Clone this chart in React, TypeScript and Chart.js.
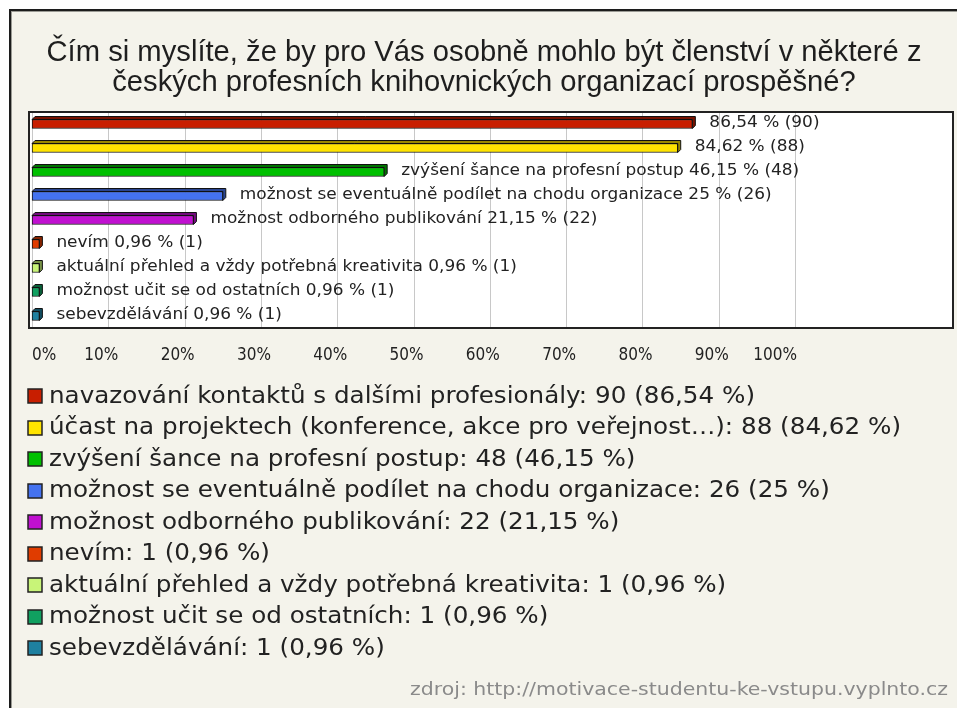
import React, { useEffect, useRef } from "react";
import { Chart, registerables } from "chart.js";
Chart.register(...registerables);

const titleLines = [
  "Čím si myslíte, že by pro Vás osobně mohlo být členství v některé z",
  "českých profesních knihovnických organizací prospěšné?",
];
const categories = [
  "navazování kontaktů s dalšími profesionály",
  "účast na projektech (konference, akce pro veřejnost…)",
  "zvýšení šance na profesní postup",
  "možnost se eventuálně podílet na chodu organizace",
  "možnost odborného publikování",
  "nevím",
  "aktuální přehled a vždy potřebná kreativita",
  "možnost učit se od ostatních",
  "sebevzdělávání",
];
const counts = [90, 88, 48, 26, 22, 1, 1, 1, 1];
const percents = [86.54, 84.62, 46.15, 25, 21.15, 0.96, 0.96, 0.96, 0.96];
const barLabelShowsName = [false, false, true, true, true, true, true, true, true];
const colors = ["#C81E00", "#FFE400", "#00C000", "#4472F0", "#C010D0", "#E03C00", "#C8F478", "#10A060", "#1E80A0"];
const tickValues = [0, 10, 20, 30, 40, 50, 60, 70, 80, 90, 100];
const tickLabels = tickValues.map((v) => v + "%");
const sourceText = "zdroj: http://motivace-studentu-ke-vstupu.vyplnto.cz";

const W = 957;
const H = 708;
const FONT = '"DejaVu Sans", Verdana, sans-serif';
const TITLE_FONT = '"Liberation Sans Narrow", "Liberation Sans", Arial, sans-serif';

const fmt = (p: number) => (Number.isInteger(p) ? String(p) : p.toFixed(2).replace(".", ","));
const barLabel = (i: number) =>
  (barLabelShowsName[i] ? categories[i] + " " : "") + fmt(percents[i]) + " % (" + counts[i] + ")";
const legendLabel = (i: number) => categories[i] + ": " + counts[i] + " (" + fmt(percents[i]) + " %)";

function shade(hex: string, f: number) {
  const n = parseInt(hex.slice(1), 16);
  const r = Math.round(((n >> 16) & 255) * f);
  const g = Math.round(((n >> 8) & 255) * f);
  const b = Math.round((n & 255) * f);
  return `rgb(${r},${g},${b})`;
}

function drawScaled(ctx: CanvasRenderingContext2D, text: string, x: number, y: number, sx: number, align: CanvasTextAlign) {
  ctx.save();
  ctx.translate(x, y);
  ctx.scale(sx, 1);
  ctx.textAlign = align;
  ctx.fillText(text, 0, 0);
  ctx.restore();
}

const decor = {
  id: "decor",
  beforeDraw(chart: any) {
    const ctx: CanvasRenderingContext2D = chart.ctx;
    ctx.save();
    ctx.fillStyle = "#ffffff";
    ctx.fillRect(0, 0, W, H);
    ctx.fillStyle = "#F4F3EB";
    ctx.fillRect(9, 9, W - 9, H - 9);
    ctx.fillStyle = "#1c1c1c";
    ctx.fillRect(9, 9, W - 9, 2);
    ctx.fillRect(9, 9, 2, H - 9);
    ctx.fillStyle = "#9a9a94";
    ctx.fillRect(11, 11, W - 11, 1);
    ctx.fillRect(11, 11, 1, H - 11);
    // title
    ctx.fillStyle = "#1e1e1e";
    ctx.font = `29px ${TITLE_FONT}`;
    ctx.textBaseline = "alphabetic";
    const w1 = ctx.measureText(titleLines[0]).width;
    const sx = 875 / w1;
    drawScaled(ctx, titleLines[0], 484, 61, sx, "center");
    drawScaled(ctx, titleLines[1], 484, 91, sx, "center");
    ctx.restore();
  },
  beforeDatasetsDraw(chart: any) {
    const ctx: CanvasRenderingContext2D = chart.ctx;
    const { left, top, right, bottom } = chart.chartArea;
    const xs = chart.scales.x;
    ctx.save();
    ctx.fillStyle = "#ffffff";
    ctx.fillRect(left, top, right - left, bottom - top);
    ctx.strokeStyle = "#c8c8c8";
    ctx.lineWidth = 1;
    tickValues.forEach((v) => {
      const x = Math.round(xs.getPixelForValue(v)) + 0.5;
      ctx.beginPath();
      ctx.moveTo(x, top);
      ctx.lineTo(x, bottom);
      ctx.stroke();
    });
    // 3D depth faces
    const meta = chart.getDatasetMeta(0);
    const d = 3;
    meta.data.forEach((el: any, i: number) => {
      const p = el.getProps(["x", "y", "base", "height"], true);
      const t = p.y - p.height / 2;
      const b = p.y + p.height / 2;
      ctx.fillStyle = shade(colors[i], 0.6);
      ctx.strokeStyle = "#111";
      ctx.lineWidth = 1;
      ctx.beginPath();
      ctx.moveTo(p.base, t);
      ctx.lineTo(p.base + d, t - d);
      ctx.lineTo(p.x + d, t - d);
      ctx.lineTo(p.x + d, b - d);
      ctx.lineTo(p.x, b);
      ctx.lineTo(p.x, t);
      ctx.closePath();
      ctx.fill();
      ctx.stroke();
    });
    ctx.restore();
  },
  afterDatasetsDraw(chart: any) {
    const ctx: CanvasRenderingContext2D = chart.ctx;
    const { left, top, right, bottom } = chart.chartArea;
    const xs = chart.scales.x;
    ctx.save();
    ctx.strokeStyle = "#222";
    ctx.lineWidth = 2;
    ctx.strokeRect(left, top, right - left, bottom - top);
    // bar labels
    const meta = chart.getDatasetMeta(0);
    ctx.fillStyle = "#222";
    ctx.font = `16px ${FONT}`;
    ctx.textBaseline = "middle";
    const lsx = 398 / ctx.measureText(barLabel(2)).width;
    meta.data.forEach((el: any, i: number) => {
      const p = el.getProps(["x", "y"], true);
      drawScaled(ctx, barLabel(i), p.x + 17, p.y - 1, lsx, "left");
    });
    // tick labels
    ctx.font = `17px ${FONT}`;
    ctx.fillStyle = "#222";
    const x0 = xs.getPixelForValue(tickValues[0]);
    const xN = xs.getPixelForValue(tickValues[tickValues.length - 1]);
    tickValues.forEach((v, i) => {
      const tsx = 0.9;
      const w = ctx.measureText(tickLabels[i]).width * tsx;
      let x = xs.getPixelForValue(v) - 7;
      if (x - w / 2 < x0) x = x0 + w / 2;
      if (x + w / 2 > xN + 2) x = xN + 2 - w / 2;
      drawScaled(ctx, tickLabels[i], x, bottom + 28, tsx, "center");
    });
    // legend
    ctx.font = `23px ${FONT}`;
    const gsx = 706 / ctx.measureText(legendLabel(0)).width;
    categories.forEach((_, i) => {
      const cy = 396 + i * 31.5;
      ctx.fillStyle = colors[i];
      ctx.fillRect(28, Math.round(cy - 7), 14, 14);
      ctx.strokeStyle = "#222";
      ctx.lineWidth = 1.5;
      ctx.strokeRect(28, Math.round(cy - 7), 14, 14);
      ctx.fillStyle = "#222";
      drawScaled(ctx, legendLabel(i), 49, cy + 1, gsx, "left");
    });
    // footer
    ctx.font = `18px ${FONT}`;
    ctx.fillStyle = "#8a8a8a";
    const fsx = 538 / ctx.measureText(sourceText).width;
    drawScaled(ctx, sourceText, 948, 690, fsx, "right");
    ctx.restore();
  },
};

export default function App() {
  const ref = useRef<HTMLCanvasElement>(null);
  useEffect(() => {
    document.body.style.margin = "0";
    const chart = new Chart(ref.current as HTMLCanvasElement, {
      type: "bar",
      data: {
        labels: categories,
        datasets: [
          {
            data: percents,
            backgroundColor: colors,
            borderColor: "#111",
            borderWidth: 1,
            borderSkipped: false,
            barThickness: 9,
          },
        ],
      },
      options: {
        indexAxis: "y",
        animation: false,
        responsive: false,
        devicePixelRatio: 1,
        layout: { padding: { left: 29, top: 112, right: W - 953, bottom: H - 328 } },
        scales: {
          x: { display: false, min: -0.4, max: 120.7 },
          y: { display: false },
        },
        plugins: {
          legend: { display: false },
          tooltip: { enabled: false },
          title: { display: false },
        },
      },
      plugins: [decor],
    } as any);
    return () => chart.destroy();
  }, []);
  return <canvas ref={ref} width={W} height={H} style={{ display: "block", width: W, height: H }} />;
}
